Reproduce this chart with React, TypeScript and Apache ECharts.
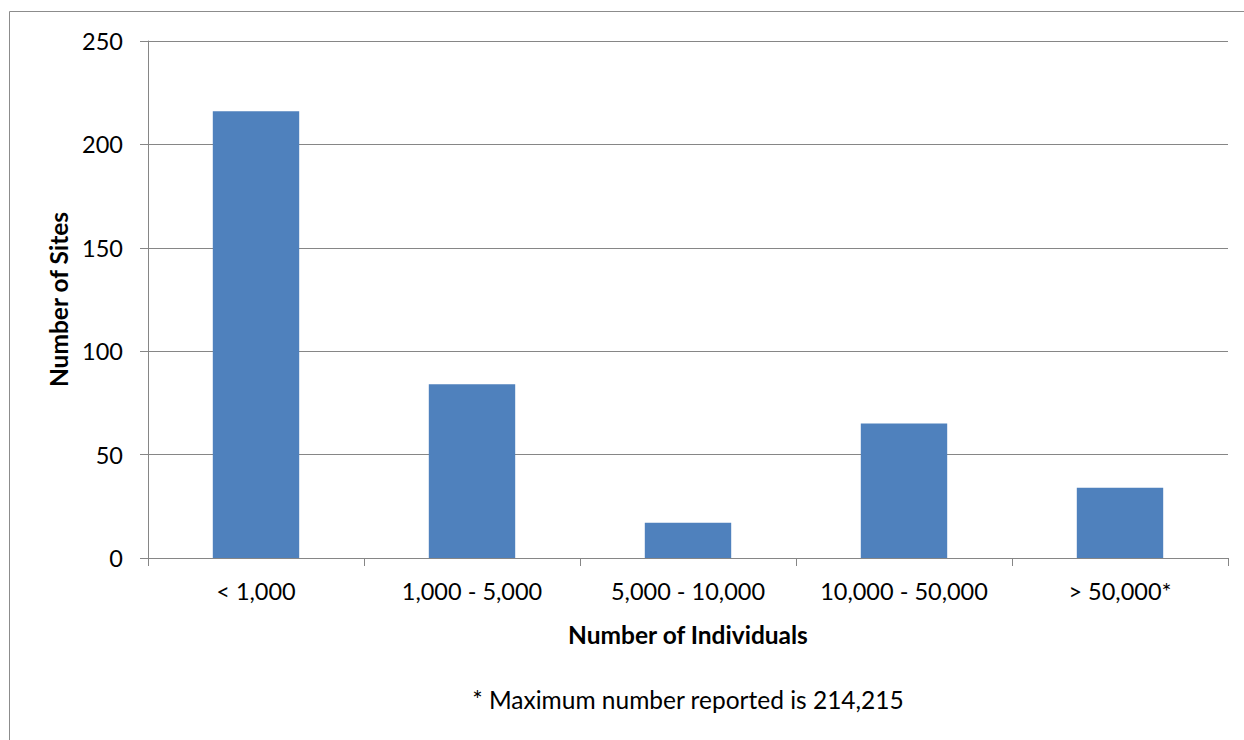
import React, { useEffect, useRef } from "react";
import * as echarts from "echarts";

const categories = ["< 1,000", "1,000 - 5,000", "5,000 - 10,000", "10,000 - 50,000", "> 50,000*"];
const siteCounts = [216, 84, 17, 65, 34];
const yTicks = { min: 0, max: 250, interval: 50 };
const xTitle = "Number of Individuals";
const yTitle = "Number of Sites";
const footnote = "* Maximum number reported is 214,215";

const FONT = "Lato, 'Open Sans', sans-serif";
const GRAY = "#868686";

export default function App() {
  const ref = useRef<HTMLDivElement>(null);
  useEffect(() => {
    if (!ref.current) return;
    const chart = echarts.init(ref.current, undefined, { renderer: "svg" });
    chart.setOption({
      animation: false,
      backgroundColor: "#ffffff",
      textStyle: { fontFamily: FONT },
      grid: { left: 148, right: 16, top: 41, bottom: 182, containLabel: false },
      graphic: [
        {
          type: "rect",
          shape: { x: 9.5, y: 11.5, width: 1250, height: 760 },
          style: { fill: "none", stroke: "#8c8c8c", lineWidth: 1 },
          silent: true,
        },
        {
          type: "text",
          x: 688,
          y: 699,
          style: {
            text: footnote,
            fontSize: 24.5,
            fontFamily: FONT,
            fill: "#000",
            align: "center",
            verticalAlign: "middle",
          },
        },
      ],
      xAxis: {
        type: "category",
        data: categories,
        name: xTitle,
        nameLocation: "middle",
        nameGap: 64,
        nameTextStyle: { fontSize: 24.5, fontWeight: "bold", color: "#000", fontFamily: FONT },
        axisLine: { lineStyle: { color: GRAY, width: 1 } },
        axisTick: { show: true, length: 8, lineStyle: { color: GRAY } },
        axisLabel: { fontSize: 23.5, color: "#000", margin: 21, fontFamily: FONT, interval: 0 },
      },
      yAxis: {
        type: "value",
        min: yTicks.min,
        max: yTicks.max,
        interval: yTicks.interval,
        name: yTitle,
        nameLocation: "middle",
        nameGap: 75,
        nameRotate: 90,
        nameTextStyle: { fontSize: 24.5, fontWeight: "bold", color: "#000", fontFamily: FONT },
        axisLine: { show: true, lineStyle: { color: GRAY, width: 1 } },
        axisTick: { show: true, length: 8, lineStyle: { color: GRAY } },
        axisLabel: { fontSize: 23.5, color: "#000", margin: 25, fontFamily: FONT },
        splitLine: { show: true, lineStyle: { color: GRAY, width: 1 } },
      },
      series: [
        {
          type: "bar",
          data: siteCounts,
          barWidth: "40%",
          itemStyle: { color: "#4F81BD" },
        },
      ],
    });
    return () => chart.dispose();
  }, []);
  return (
    <div
      ref={ref}
      style={{ position: "absolute", left: 0, top: 0, width: 1244, height: 740 }}
    />
  );
}
